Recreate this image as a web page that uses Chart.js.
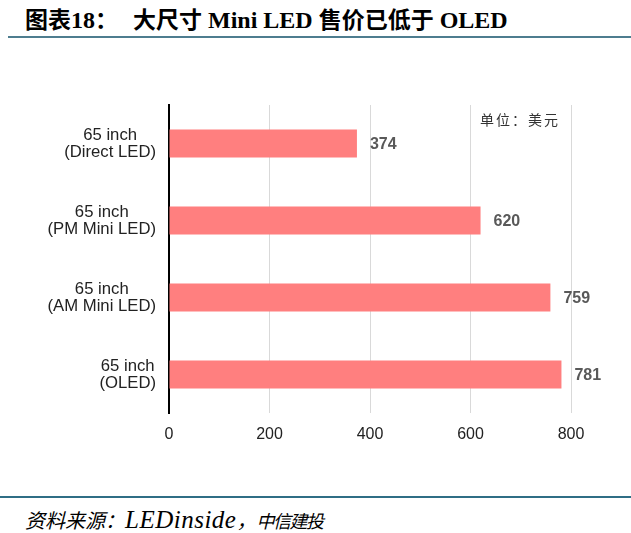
<!DOCTYPE html>
<html>
<head>
<meta charset="utf-8">
<script src="https://cdn.jsdelivr.net/npm/chart.js@4/dist/chart.umd.min.js"></script>
<style>
  body { margin: 0; background: #fff; width: 631px; height: 533px; position: relative; overflow: hidden; }
  .title { position: absolute; top: 3px; font: bold 23px "Noto Sans CJK SC", sans-serif; color: #000; white-space: pre; line-height: 30px; }
  .title .lat { font-family: "Liberation Serif", serif; font-size: 24px; }
  .rule-top { position: absolute; left: 8px; right: 0; top: 36px; height: 2px; background: #4e7d8f; }
  .rule-bottom { position: absolute; left: 0; right: 0; top: 496px; height: 2px; background: #2f6e85; }
  .source { position: absolute; left: 25px; top: 505px; font: italic 20px "Noto Sans CJK SC", sans-serif; color: #000; white-space: pre; line-height: 30px; }
  .source .lat { font-family: "Liberation Serif", serif; font-size: 25px; letter-spacing: 0.5px; }
  .source .small { font-size: 18px; letter-spacing: -1.5px; }
  .unit { position: absolute; left: 480px; top: 109px; font: 14px "Noto Sans CJK SC", sans-serif; color: #333; letter-spacing: 2px; }
  #wrap { position: absolute; left: 0; top: 60px; width: 631px; height: 390px; }
</style>
</head>
<body>
<div class="title" style="left:25px">图表<span class="lat">18</span>：</div>
<div class="title" style="left:133px">大尺寸<span class="lat"> Mini LED </span>售价已低于<span class="lat"> OLED</span></div>
<div class="rule-top"></div>
<div id="wrap"><canvas id="priceChart"></canvas></div>
<div class="unit">单位：美元</div>
<div class="rule-bottom"></div>
<div class="source">资料来源：<span class="lat">LEDinside</span>，<span class="small">中信建投</span></div>
<script>
// categories and prices (USD)
const categories = [
  ["65 inch", "(Direct LED)"],
  ["65 inch", "(PM Mini LED)"],
  ["65 inch", "(AM Mini LED)"],
  ["65 inch", "(OLED)"],
];
const prices = [374, 620, 759, 781];
const xTicks = [0, 200, 400, 600, 800];

// value labels right of each bar
const valueLabels = {
  id: "valueLabels",
  afterDatasetsDraw(chart) {
    const ctx = chart.ctx;
    const meta = chart.getDatasetMeta(0);
    ctx.save();
    ctx.font = "bold 16px 'Liberation Sans', Arial, sans-serif";
    ctx.fillStyle = "#595959";
    ctx.textAlign = "left";
    ctx.textBaseline = "middle";
    meta.data.forEach(function (bar, i) {
      ctx.fillText(String(prices[i]), bar.x + 13, bar.y + 1);
    });
    ctx.restore();
  },
};

// category labels: block right-aligned, lines centred inside the block
const categoryLabels = {
  id: "categoryLabels",
  afterDraw(chart) {
    const ctx = chart.ctx;
    const yScale = chart.scales.y;
    const right = chart.chartArea.left - 13;
    ctx.save();
    ctx.font = "16.7px 'Liberation Sans', Arial, sans-serif";
    ctx.fillStyle = "#222";
    ctx.textAlign = "center";
    ctx.textBaseline = "middle";
    categories.forEach(function (lines, i) {
      const y = yScale.getPixelForValue(i);
      const w = Math.max.apply(null, lines.map((t) => ctx.measureText(t).width));
      const cx = right - w / 2;
      lines.forEach(function (t, k) {
        ctx.fillText(t, cx, y + (k - (lines.length - 1) / 2) * 17);
      });
    });
    ctx.restore();
  },
};

document.addEventListener("DOMContentLoaded", function () {
  const ctx = document.getElementById("priceChart").getContext("2d");
  new Chart(ctx, {
    type: "bar",
    data: {
      labels: categories,
      datasets: [
        {
          data: prices,
          backgroundColor: "#ff7f7f",
          borderWidth: 0,
          barPercentage: 0.364,
          categoryPercentage: 1,
        },
      ],
    },
    options: {
      indexAxis: "y",
      responsive: true,
      maintainAspectRatio: false,
      animation: false,
      layout: { padding: { left: 0, right: 60, top: 45, bottom: 0 } },
      plugins: {
        legend: { display: false },
        title: { display: false },
        tooltip: { enabled: false },
      },
      scales: {
        x: {
          min: 0,
          max: 800,
          afterBuildTicks: function (scale) {
            scale.ticks = xTicks.map((v) => ({ value: v }));
          },
          afterFit: function (scale) {
            scale.height = 37;
          },
          border: { display: false },
          grid: {
            color: function (c) {
              return c.tick && c.tick.value === 0 ? "rgba(0,0,0,0)" : "#d9d9d9";
            },
            lineWidth: 1,
            drawTicks: false,
          },
          ticks: {
            color: "#222",
            padding: 12,
            font: { family: "'Liberation Sans', Arial, sans-serif", size: 16 },
          },
        },
        y: {
          afterFit: function (scale) {
            scale.width = 169;
          },
          border: { display: true, color: "#000", width: 2 },
          grid: { display: false, drawTicks: false },
          ticks: { display: false },
        },
      },
    },
    plugins: [valueLabels, categoryLabels],
  });
});
</script>
</body>
</html>
